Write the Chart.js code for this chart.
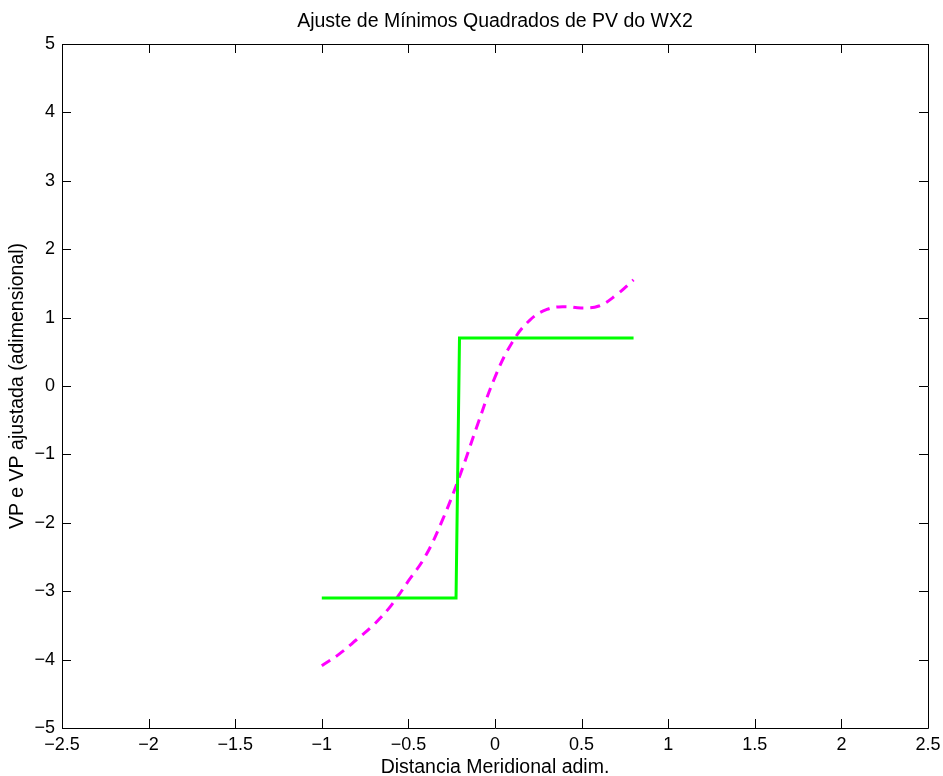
<!DOCTYPE html>
<html>
<head>
<meta charset="utf-8">
<script src="https://cdn.jsdelivr.net/npm/chart.js@4.4.0/dist/chart.umd.min.js"></script>
<style>
  html, body { margin: 0; padding: 0; background: #fff; }
  #wrap { width: 943px; height: 776px; }
</style>
</head>
<body>
<div id="wrap"><canvas id="pvChart"></canvas></div>
<script>
// step profile (PV) and least squares fit
var stepX = [-1.0, -0.225, -0.205, 0.8];
var stepY = [-3.1, -3.1, 0.7, 0.7];

var fitX = [-1.0, -0.9, -0.8, -0.7, -0.6, -0.5, -0.4, -0.3, -0.2, -0.1, 0.0, 0.1, 0.2, 0.3, 0.4, 0.5, 0.6, 0.7, 0.8];
var fitY = [-4.09, -3.92, -3.71, -3.49, -3.21, -2.85, -2.48, -1.94, -1.29, -0.56, 0.13, 0.64, 0.96, 1.12, 1.16, 1.14, 1.17, 1.33, 1.55];

var xTicks = [-2.5, -2, -1.5, -1, -0.5, 0, 0.5, 1, 1.5, 2, 2.5];
var yTicks = [-5, -4, -3, -2, -1, 0, 1, 2, 3, 4, 5];

var FONT = 'Liberation Sans, Arial, Helvetica, sans-serif';

function pts(xs, ys) {
  var out = [];
  for (var i = 0; i < xs.length; i++) out.push({x: xs[i], y: ys[i]});
  return out;
}
function fmt(v) {
  var s = String(Math.round(v * 10) / 10);
  return s.replace('-', '\u2212');
}

// box + inward tick marks, matlab style
var frameTicks = {
  id: 'frameTicks',
  afterDraw: function(chart) {
    var ctx = chart.ctx, a = chart.chartArea;
    var xs = chart.scales.x, ys = chart.scales.y;
    var len = 9;
    ctx.save();
    ctx.strokeStyle = '#000';
    ctx.lineWidth = 1;
    ctx.beginPath();
    ctx.rect(Math.round(a.left) + 0.5, Math.round(a.top) + 0.5, Math.round(a.right - a.left), Math.round(a.bottom - a.top));
    xTicks.forEach(function(v) {
      var px = Math.round(xs.getPixelForValue(v)) + 0.5;
      ctx.moveTo(px, a.bottom); ctx.lineTo(px, a.bottom - len);
      ctx.moveTo(px, a.top); ctx.lineTo(px, a.top + len);
    });
    yTicks.forEach(function(v) {
      var py = Math.round(ys.getPixelForValue(v)) + 0.5;
      ctx.moveTo(a.left, py); ctx.lineTo(a.left + len, py);
      ctx.moveTo(a.right, py); ctx.lineTo(a.right - len, py);
    });
    ctx.stroke();
    ctx.restore();
  }
};

var ctx = document.getElementById('pvChart').getContext('2d');
var pvChart = new Chart(ctx, {
  type: 'line',
  data: {
    datasets: [{
      label: 'PV',
      data: pts(stepX, stepY),
      borderColor: '#00ff00',
      borderWidth: 3,
      pointRadius: 0,
      tension: 0
    }, {
      label: 'PV ajustada',
      data: pts(fitX, fitY),
      borderColor: '#ff00ff',
      borderWidth: 3,
      borderDash: [10, 7],
      pointRadius: 0,
      tension: 0.4
    }]
  },
  options: {
    responsive: true,
    maintainAspectRatio: false,
    animation: false,
    layout: { padding: { left: 4, right: 15, top: 0, bottom: 0 } },
    plugins: {
      legend: { display: false },
      tooltip: { enabled: false },
      title: {
        display: true,
        fullSize: false,
        text: 'Ajuste de Mínimos Quadrados de PV do WX2',
        color: '#000',
        font: { family: FONT, size: 19.5, weight: 'normal' },
        padding: { top: 10.3, bottom: 10.3 }
      }
    },
    scales: {
      x: {
        type: 'linear',
        min: -2.5,
        max: 2.5,
        afterBuildTicks: function(s) { s.ticks = xTicks.map(function(v) { return {value: v}; }); },
        afterFit: function(s) { s.height = 48; s.paddingLeft = 0; s.paddingRight = 0; },
        grid: { display: false, drawTicks: false },
        border: { display: false },
        ticks: {
          color: '#000',
          padding: 6,
          maxRotation: 0,
          font: { family: FONT, size: 18 },
          callback: function(v) { return fmt(v); }
        },
        title: {
          display: true,
          text: 'Distancia Meridional adim.',
          color: '#000',
          font: { family: FONT, size: 19.5 },
          padding: { top: 0, bottom: -3 }
        }
      },
      y: {
        type: 'linear',
        min: -5,
        max: 5,
        afterBuildTicks: function(s) { s.ticks = yTicks.map(function(v) { return {value: v}; }); },
        afterFit: function(s) { s.width = 58; s.paddingTop = 0; s.paddingBottom = 0; },
        grid: { display: false, drawTicks: false },
        border: { display: false },
        ticks: {
          color: '#000',
          padding: 7,
          font: { family: FONT, size: 18 },
          callback: function(v) { return fmt(v); }
        },
        title: {
          display: true,
          text: 'VP e VP ajustada (adimensional)',
          color: '#000',
          font: { family: FONT, size: 19.5 },
          padding: { top: 2, bottom: 0 }
        }
      }
    }
  },
  plugins: [frameTicks]
});
</script>
</body>
</html>
